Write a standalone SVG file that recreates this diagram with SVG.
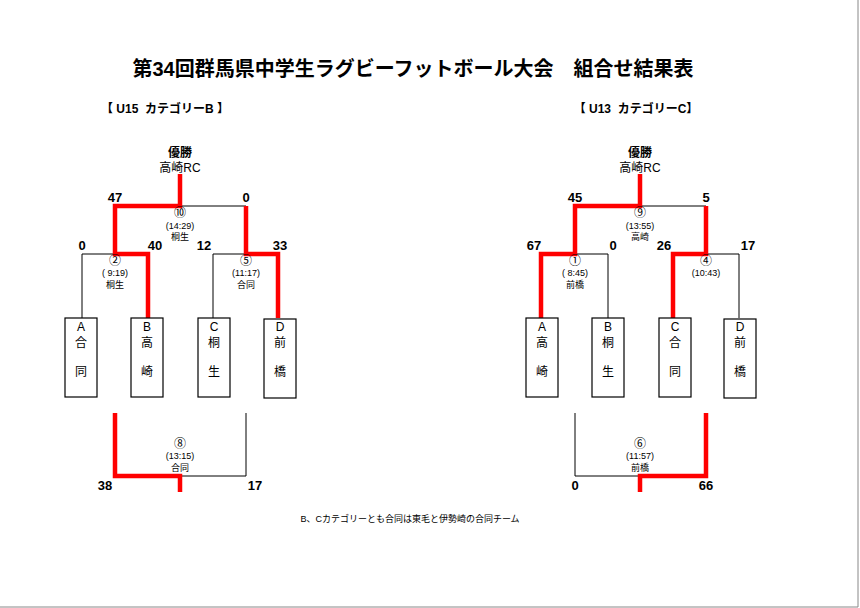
<svg xmlns="http://www.w3.org/2000/svg" width="860" height="608" viewBox="0 0 860 608">
<style>
text{font-family:"Liberation Sans","Noto Sans CJK JP",sans-serif;fill:#000;text-anchor:middle}
.t{font-size:20px;font-weight:bold}
.h{font-size:12px}
.hd{font-size:12px;font-weight:bold;white-space:pre}
.s{font-size:12px;font-weight:bold}
.m{font-size:9px}
.b{fill:#fff;stroke:#000;stroke-width:1.2}
.k{fill:none;stroke:#000;stroke-width:1}
.r{fill:none;stroke:#f00;stroke-width:4.5}
.n{font-size:13px;font-weight:bold}
</style>
<rect width="860" height="608" fill="#fff"/>
<path d="M858 0V607H0" fill="none" stroke="#888" stroke-width="1"/>
<text class="t" x="413" y="76">第34回群馬県中学生ラグビーフットボール大会　組合せ結果表</text>
<text class="hd" x="165" y="113" xml:space="preserve">【 U15  カテゴリーB 】</text>
<text class="hd" x="636" y="113" xml:space="preserve">【 U13  カテゴリーC】</text>
<g id="connectors">
<path class="k" d="M180 206H246M82 318V254H115M213 318V254H246M180 476H246V413"/>
<path class="r" d="M180 174V206H115V254H148V318M246 206V254H278V318M115 413V476H180V492"/>
<path class="k" d="M640 206H706M575 254H608V318M706 254H739V318M640 476H575V413"/>
<path class="r" d="M640 174V206H575V254H541V318M706 206V254H673V318M706 413V476H640V492"/>
</g>
<g id="champ-left"><text class="s" x="180" y="157">優勝</text><text class="h" x="180" y="172">高崎RC</text></g>
<g id="champ-right"><text class="s" x="640" y="157">優勝</text><text class="h" x="640" y="172">高崎RC</text></g>
<g id="scores">
<text class="n" x="115" y="202">47</text><text class="n" x="246" y="202">0</text>
<text class="n" x="82" y="250">0</text><text class="n" x="155" y="250">40</text><text class="n" x="204" y="250">12</text><text class="n" x="280" y="250">33</text>
<text class="n" x="105" y="490">38</text><text class="n" x="255" y="490">17</text>
<text class="n" x="575" y="202">45</text><text class="n" x="706" y="202">5</text>
<text class="n" x="534" y="250">67</text><text class="n" x="613" y="250">0</text><text class="n" x="664" y="250">26</text><text class="n" x="748" y="250">17</text>
<text class="n" x="575" y="490">0</text><text class="n" x="706" y="490">66</text>
</g>
<g id="m10"><text class="h" x="180" y="217">⑩</text><text class="m" x="180" y="229">(14:29)</text><text class="m" x="180" y="240">桐生</text></g>
<g id="m2"><text class="h" x="115" y="265">②</text><text class="m" x="115" y="276">(  9:19)</text><text class="m" x="115" y="288">桐生</text></g>
<g id="m5"><text class="h" x="246" y="265">⑤</text><text class="m" x="246" y="276">(11:17)</text><text class="m" x="246" y="288">合同</text></g>
<g id="m8"><text class="h" x="180" y="448">⑧</text><text class="m" x="180" y="459">(13:15)</text><text class="m" x="180" y="471">合同</text></g>
<g id="m9"><text class="h" x="640" y="217">⑨</text><text class="m" x="640" y="229">(13:55)</text><text class="m" x="640" y="240">高崎</text></g>
<g id="m1"><text class="h" x="575" y="265">①</text><text class="m" x="575" y="276">( 8:45)</text><text class="m" x="575" y="288">前橋</text></g>
<g id="m4"><text class="h" x="706" y="265">④</text><text class="m" x="706" y="276">(10:43)</text></g>
<g id="m6"><text class="h" x="640" y="448">⑥</text><text class="m" x="640" y="459">(11:57)</text><text class="m" x="640" y="471">前橋</text></g>
<g id="L-A"><rect class="b" x="65" y="318" width="32" height="79"/><text class="h" x="81" y="331">A</text><text class="h" x="81" y="347">合</text><text class="h" x="81" y="376">同</text></g>
<g id="L-B"><rect class="b" x="131" y="318" width="32" height="79"/><text class="h" x="147" y="331">B</text><text class="h" x="147" y="347">高</text><text class="h" x="147" y="376">崎</text></g>
<g id="L-C"><rect class="b" x="198" y="318" width="32" height="79"/><text class="h" x="214" y="331">C</text><text class="h" x="214" y="347">桐</text><text class="h" x="214" y="376">生</text></g>
<g id="L-D"><rect class="b" x="264" y="319" width="32" height="79"/><text class="h" x="280" y="331">D</text><text class="h" x="280" y="347">前</text><text class="h" x="280" y="376">橋</text></g>
<g id="R-A"><rect class="b" x="526" y="318" width="32" height="79"/><text class="h" x="542" y="331">A</text><text class="h" x="542" y="347">高</text><text class="h" x="542" y="376">崎</text></g>
<g id="R-B"><rect class="b" x="592" y="318" width="32" height="79"/><text class="h" x="608" y="331">B</text><text class="h" x="608" y="347">桐</text><text class="h" x="608" y="376">生</text></g>
<g id="R-C"><rect class="b" x="659" y="318" width="32" height="79"/><text class="h" x="675" y="331">C</text><text class="h" x="675" y="347">合</text><text class="h" x="675" y="376">同</text></g>
<g id="R-D"><rect class="b" x="724" y="319" width="32" height="79"/><text class="h" x="740" y="331">D</text><text class="h" x="740" y="347">前</text><text class="h" x="740" y="376">橋</text></g>
<text class="m" x="410" y="522">B、Cカテゴリーとも合同は東毛と伊勢崎の合同チーム</text>
</svg>
